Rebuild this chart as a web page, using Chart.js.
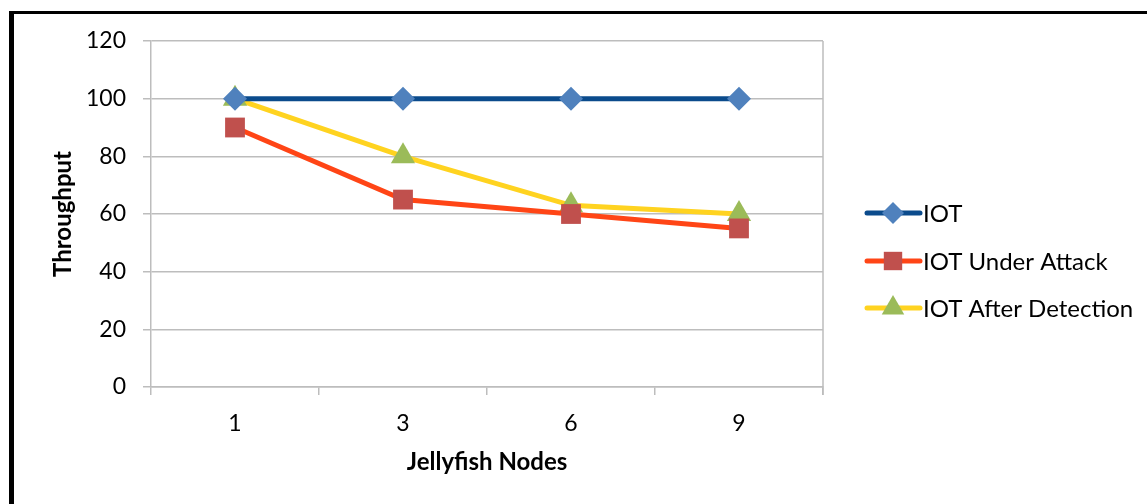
<!DOCTYPE html>
<html>
<head>
<meta charset="utf-8">
<script src="https://cdn.jsdelivr.net/npm/chart.js@4.4.1/dist/chart.umd.min.js"></script>
<style>
  html, body { margin: 0; padding: 0; background: #fff; }
  #frame {
    position: absolute;
    left: 9px;
    top: 11px;
    width: 1133px;
    height: 490px;
    border-left: 5px solid #000;
    border-top: 3px solid #000;
  }
  #wrap { position: relative; width: 1133px; height: 490px; }
</style>
</head>
<body>
<div id="frame">
  <div id="wrap"><canvas id="lineChart"></canvas></div>
</div>
<script>
const nodes = ["1", "3", "6", "9"];
const iot = [100, 100, 100, 100];
const iotUnderAttack = [90, 65, 60, 55];
const iotAfterDetection = [100, 80, 63, 60];
const yTicks = [0, 20, 40, 60, 80, 100, 120];

const FONT = "Lato, 'Open Sans', sans-serif";
const GRID = "#bdbdbd";

// right edge of the plot area
const plotBorder = {
  id: "plotBorder",
  beforeDatasetsDraw(chart) {
    const a = chart.chartArea;
    const ctx = chart.ctx;
    ctx.save();
    ctx.strokeStyle = GRID;
    ctx.lineWidth = 1.5;
    ctx.beginPath();
    ctx.moveTo(a.right, a.top);
    ctx.lineTo(a.right, a.bottom + 8);
    ctx.stroke();
    ctx.restore();
  },
};

function drawMarker(ctx, ds, x, y, radius) {
  ctx.save();
  ctx.fillStyle = ds.pointBackgroundColor;
  ctx.strokeStyle = ds.pointBackgroundColor;
  Chart.helpers.drawPoint(ctx, {
    pointStyle: ds.pointStyle,
    rotation: 0,
    radius: radius,
    borderWidth: 0,
  }, x, y);
  ctx.restore();
}

// legend drawn as line + marker, like the original
const lineLegend = {
  id: "lineLegend",
  afterDraw(chart) {
    const ctx = chart.ctx;
    const x0 = 851;
    const rows = [199, 247, 294];
    ctx.save();
    chart.data.datasets.forEach((ds, i) => {
      const y = rows[i];
      ctx.strokeStyle = ds.borderColor;
      ctx.lineWidth = 5;
      ctx.lineCap = "round";
      ctx.beginPath();
      ctx.moveTo(x0 + 2, y);
      ctx.lineTo(x0 + 55, y);
      ctx.stroke();
      drawMarker(ctx, ds, x0 + 28, y, ds.pointRadius - 1);
      ctx.fillStyle = "#000";
      ctx.font = "24px " + FONT;
      ctx.textBaseline = "middle";
      ctx.textAlign = "left";
      ctx.fillText(ds.label, x0 + 58, y + 1);
    });
    ctx.restore();
  },
};

const canvas = document.getElementById("lineChart");
new Chart(canvas.getContext("2d"), {
  type: "line",
  data: {
    labels: nodes,
    datasets: [
      {
        label: "IOT",
        data: iot,
        borderColor: "#0b4b8c",
        borderWidth: 5,
        pointStyle: "rectRot",
        pointRadius: 12,
        pointBackgroundColor: "#4f81bd",
        pointBorderColor: "#4f81bd",
        pointBorderWidth: 0,
      },
      {
        label: "IOT Under Attack",
        data: iotUnderAttack,
        borderColor: "#ff4516",
        borderWidth: 5,
        pointStyle: "rect",
        pointRadius: 14,
        pointBackgroundColor: "#c0504d",
        pointBorderColor: "#c0504d",
        pointBorderWidth: 0,
      },
      {
        label: "IOT After Detection",
        data: iotAfterDetection,
        borderColor: "#ffd320",
        borderWidth: 5,
        pointStyle: "triangle",
        pointRadius: 14,
        pointBackgroundColor: "#9bbb59",
        pointBorderColor: "#9bbb59",
        pointBorderWidth: 0,
      },
    ],
  },
  options: {
    responsive: true,
    maintainAspectRatio: false,
    animation: false,
    layout: { padding: { top: 27, right: 324, bottom: 0, left: 0 } },
    plugins: {
      legend: { display: false },
      tooltip: { enabled: false },
    },
    scales: {
      y: {
        min: 0,
        max: 120,
        afterFit(scale) {
          scale.width = 137;
          scale.paddingTop = 0;
          scale.paddingBottom = 0;
        },
        afterBuildTicks(scale) { scale.ticks = yTicks.map((v) => ({ value: v })); },
        ticks: { color: "#000", padding: 17, font: { family: FONT, size: 23 } },
        grid: { color: GRID, lineWidth: 1.5, tickLength: 8 },
        border: { color: GRID, width: 1.5 },
        title: {
          display: true,
          text: "Throughput",
          color: "#000",
          font: { family: FONT, size: 24, weight: "bold" },
          padding: { top: 35, bottom: 0 },
        },
      },
      x: {
        offset: true,
        afterFit(scale) {
          scale.height = 117;
          scale.paddingLeft = 0;
          scale.paddingRight = 0;
        },
        ticks: { color: "#000", padding: 15, font: { family: FONT, size: 23 } },
        grid: { offset: true, drawOnChartArea: false, color: GRID, lineWidth: 1.5, tickLength: 8 },
        border: { color: GRID, width: 1.5 },
        title: {
          display: true,
          text: "Jellyfish Nodes",
          color: "#000",
          font: { family: FONT, size: 24, weight: "bold" },
          padding: { top: 0, bottom: 27 },
        },
      },
    },
  },
  plugins: [plotBorder, lineLegend],
});
</script>
</body>
</html>
